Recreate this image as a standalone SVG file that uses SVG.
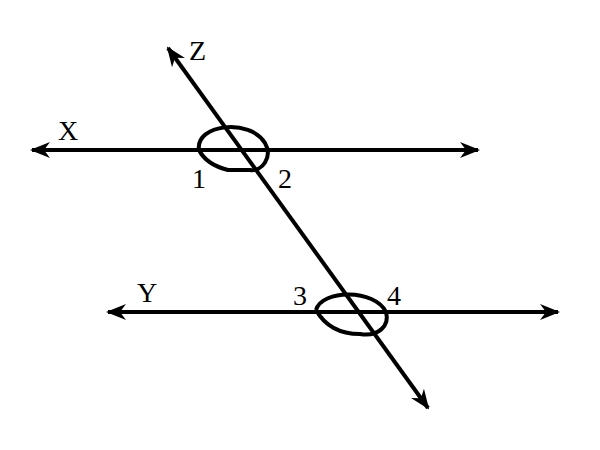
<svg xmlns="http://www.w3.org/2000/svg" width="600" height="450" viewBox="0 0 600 450">
<defs><marker id="a" viewBox="0 0 20 16" refX="18" refY="8" markerWidth="20" markerHeight="16" markerUnits="userSpaceOnUse" orient="auto-start-reverse"><path d="M0,0 L20,8 L0,16 L6,8 Z" fill="#000"/></marker></defs>
<style>.l{stroke:#000;stroke-width:4;fill:none}.t{font-family:"Liberation Serif",serif;font-size:28px}</style>
<rect width="600" height="450" fill="#fff"/>
<g id="connectors">
<line class="l" x1="32" y1="150" x2="478" y2="150" marker-start="url(#a)" marker-end="url(#a)"/>
<line class="l" x1="108" y1="312" x2="558" y2="312" marker-start="url(#a)" marker-end="url(#a)"/>
<line class="l" x1="168" y1="48" x2="428" y2="408" marker-start="url(#a)" marker-end="url(#a)"/>
</g>
<g id="arc12"><path class="l" d="M199,150 C195,124 250,118 265,143 C273,157 262,172 250,170 L228,170 C212,166 203,158 199,150"/></g>
<g id="arc34"><path class="l" d="M316,310 C322,289 375,289 386,312 C390,326 378,337 360,334 C340,334 325,326 316,310"/></g>
<text class="t" x="58" y="140">X</text>
<text class="t" x="189" y="60">Z</text>
<text class="t" x="137" y="302">Y</text>
<text class="t" x="192" y="188">1</text>
<text class="t" x="278" y="188">2</text>
<text class="t" x="293" y="305">3</text>
<text class="t" x="387" y="305">4</text>
</svg>
